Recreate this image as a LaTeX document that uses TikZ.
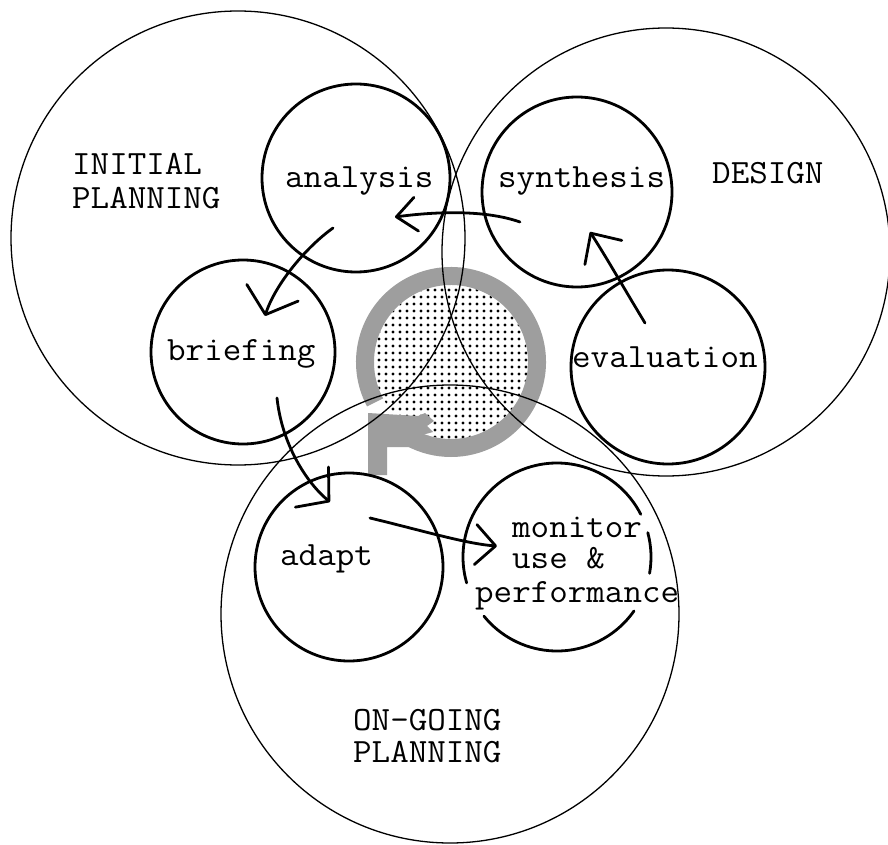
\documentclass[tikz,border=0pt]{standalone}
\usepackage{fontspec}
\usepackage{graphicx}
\usetikzlibrary{arrows.meta}
\newcommand{\twx}[1]{\scalebox{1.0588}[1]{#1}}
\begin{document}
\begin{tikzpicture}[x=1pt,y=-1pt,
  bigc/.style={circle, draw, line width=1.3pt, inner sep=0pt, minimum size=#1},
  smallc/.style={circle, draw, line width=2.8pt, inner sep=0pt, minimum size=#1},
  arcline/.style={line width=2.8pt, line cap=round},
  arr/.style={line width=2.8pt, line cap=round, line join=round},
  lab/.style={font=\fontsize{34}{34}\selectfont\ttfamily, inner sep=0pt, anchor=base west},
  ringgray/.style={black!38}
]
\useasboundingbox (0,0) rectangle (888,845);
\fill[white] (0,0) rectangle (888,845);

% dotted core
\coordinate (core) at (451,362);
\begin{scope}
  \clip (core) circle[radius=77];
  \foreach \i in {0,...,23}
    \foreach \j in {0,...,23}
      \fill (372+7*\i, 283+7*\j) circle[radius=1.6];
\end{scope}

% gray ring with stem
\draw[ringgray, line width=18pt] (core) ++(152:86) arc[start angle=152, end angle=478, radius=86];
\fill[ringgray] (368,475) -- (368,413) -- (418,416) -- (425,413) -- (434,421) -- (427,426)
  -- (433,432) -- (415,437) -- (410,447) -- (387,447) -- (387,475) -- cycle;

% large circles
\node[bigc=454pt] (ip) at (238,238) {};
\node[bigc=448pt] (design) at (666,252) {};
\node[bigc=458pt] (og) at (450,614) {};

% small circles
\node[smallc=188pt] (analysis) at (356,178) {};
\node[smallc=190pt] (synthesis) at (577,192) {};
\node[smallc=184pt] (briefing) at (243,352) {};
\node[smallc=194pt] (evaluation) at (668,367) {};
\node[smallc=188pt] (adapt) at (349,567) {};
\coordinate (monitor) at (557,557);
\draw[arcline] (monitor) ++(164:94) arc[start angle=164, end angle=333, radius=94];
\draw[arcline] (monitor) ++(345:94) arc[start angle=345, end angle=370, radius=94];
\draw[arcline] (monitor) ++(35:94) arc[start angle=35, end angle=141, radius=94];

% arrows
\coordinate (t1) at (520,222); \coordinate (h1) at (395,217);
\coordinate (t2) at (333,228); \coordinate (h2) at (265,316);
\coordinate (t3) at (277,398); \coordinate (h3) at (330,502);
\coordinate (t4) at (370,518); \coordinate (h4) at (497,546);
\coordinate (t5) at (645,323); \coordinate (h5) at (590,232);
\draw[arr, -{Straight Barb[length=20pt, width=34pt, round]}] (t1) .. controls (480,208) and (425,213) .. (h1);
\draw[arr, -{Straight Barb[length=23pt, width=54pt, round]}] (t2) .. controls (305,248) and (275,285) .. (h2);
\draw[arr, -{Straight Barb[length=22pt, width=52pt, round]}] (t3) .. controls (282,445) and (307,483) .. (h3);
\draw[arr, -{Straight Barb[length=20pt, width=40pt, round]}] (t4) .. controls (420,530) and (467,544) .. (h4);
\draw[arr, -{Straight Barb[length=23pt, width=44pt, round]}] (t5) .. controls (625,290) and (605,255) .. (h5);

% labels
\node[lab] (l-ip1) at (72,175) {\twx{INITIAL}};
\node[lab] (l-ip2) at (72,208) {\twx{PLANNING}};
\node[lab] (l-de) at (712,183) {\twx{DESIGN}};
\node[lab] (l-og1) at (353,730) {\twx{ON-GOING}};
\node[lab] (l-og2) at (353,762) {\twx{PLANNING}};
\node[lab] (l-an) at (285,188) {\twx{analysis}};
\node[lab] (l-sy) at (498,188) {\twx{synthesis}};
\node[lab] (l-br) at (167,360) {\twx{briefing}};
\node[lab] (l-ev) at (572,367) {\twx{evaluation}};
\node[lab] (l-ad) at (280,565) {\twx{adapt}};
\node[lab] (l-mo1) at (512,537) {\twx{monitor}};
\node[lab] (l-mo2) at (512,568) {\twx{use \&}};
\node[lab] (l-mo3) at (475,602) {\twx{performance}};
\end{tikzpicture}
\end{document}
